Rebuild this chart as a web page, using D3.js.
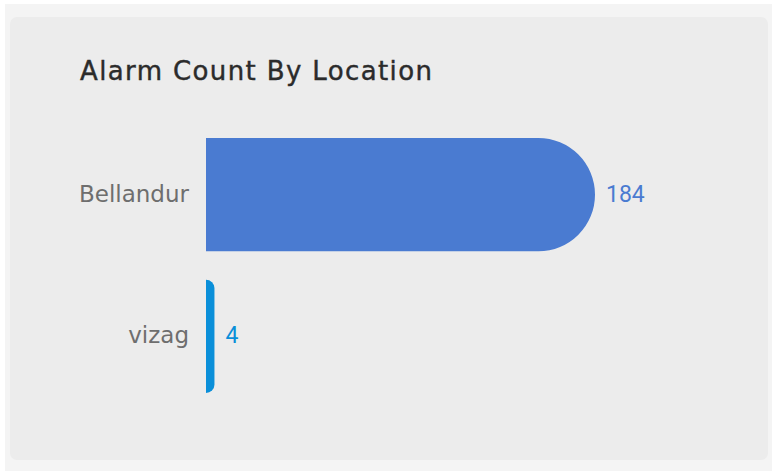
<!DOCTYPE html>
<html>
<head>
<meta charset="utf-8">
<script src="https://cdn.jsdelivr.net/npm/d3@7"></script>
<style>
  html, body { margin: 0; padding: 0; background: #fff; }
  svg { display: block; }
</style>
</head>
<body>
<svg width="772" height="471"></svg>
<script>
// alarm counts per location
var locations = ["Bellandur", "vizag"];
var counts = [184, 4];
var barColors = ["#4a7bd1", "#0a8fd9"];

var svg = d3.select("svg");

// page background and card
svg.append("rect").attr("x", 5).attr("y", 4).attr("width", 767).attr("height", 467).attr("fill", "#f4f4f4");
svg.append("rect")
    .attr("x", 10).attr("y", 17)
    .attr("width", 758).attr("height", 443)
    .attr("rx", 7)
    .attr("fill", "#ececec");

svg.append("text")
    .attr("x", 80).attr("y", 80)
    .attr("font-family", "'DejaVu Sans', sans-serif")
    .attr("font-size", 26)
    .attr("textLength", 352)
    .attr("lengthAdjust", "spacing")
    .attr("fill", "#2b2b2b")
    .attr("stroke", "#2b2b2b")
    .attr("stroke-width", 0.4)
    .text("Alarm Count By Location");

var x = d3.scaleLinear().domain([0, 184]).range([206, 595]);
var y = d3.scaleBand().domain(locations).range([138, 393]).paddingInner(0.2).paddingOuter(0);

var data = locations.map(function(d, i) { return { name: d, value: counts[i], color: barColors[i] }; });

// bar with rounded right end
function barPath(d) {
    var x0 = x(0), x1 = x(d.value), y0 = y(d.name), h = y.bandwidth();
    var w = x1 - x0;
    var r = Math.min(h / 2, w);
    var p = d3.path();
    p.moveTo(x0, y0);
    p.lineTo(x1 - r, y0);
    p.arcTo(x1, y0, x1, y0 + r, r);
    p.lineTo(x1, y0 + h - r);
    p.arcTo(x1, y0 + h, x1 - r, y0 + h, r);
    p.lineTo(x0, y0 + h);
    p.closePath();
    return p.toString();
}

var g = svg.append("g");

g.selectAll("path.bar")
    .data(data)
    .enter().append("path")
    .attr("class", "bar")
    .attr("d", barPath)
    .attr("fill", function(d) { return d.color; });

g.selectAll("text.cat")
    .data(data)
    .enter().append("text")
    .attr("class", "cat")
    .attr("x", 189)
    .attr("y", function(d) { return y(d.name) + y.bandwidth() / 2 - 1; })
    .attr("dy", "0.35em")
    .attr("text-anchor", "end")
    .attr("font-family", "'DejaVu Sans', sans-serif")
    .attr("font-size", 23)
    .attr("fill", "#6e6e6e")
    .text(function(d) { return d.name; });

g.selectAll("text.val")
    .data(data)
    .enter().append("text")
    .attr("class", "val")
    .attr("x", function(d) { return x(d.value) + 11; })
    .attr("y", function(d) { return y(d.name) + y.bandwidth() / 2 - 1; })
    .attr("dy", "0.35em")
    .attr("font-family", "Roboto, sans-serif")
    .attr("font-size", 23)
    .attr("fill", function(d) { return d.color; })
    .text(function(d) { return d.value; });
</script>
</body>
</html>
